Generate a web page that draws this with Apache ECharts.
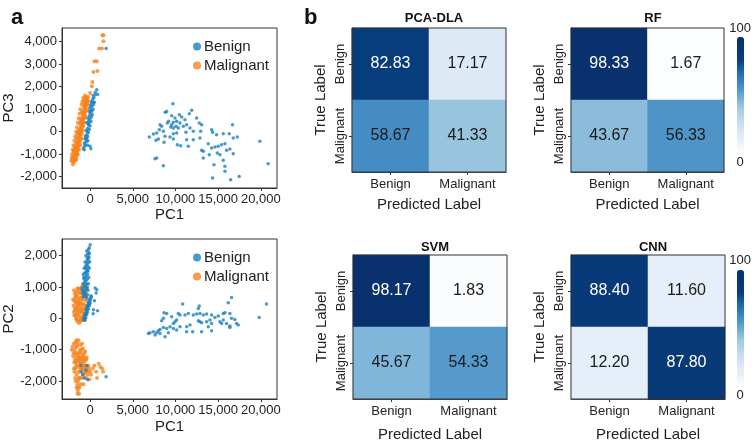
<!DOCTYPE html>
<html>
<head>
<meta charset="utf-8">
<script src="https://cdn.jsdelivr.net/npm/echarts@6/dist/echarts.min.js"></script>
<style>
  html, body { margin: 0; padding: 0; background: #fff; }
  #main { width: 755px; height: 448px; }
</style>
</head>
<body>
<div id="main"></div>
<script>
// ---- data ----
// panel a, top: PC1 vs PC3
var pc13Benign = [
  [9700,1240],[8800,860],[8970,890],[11900,950],[11620,800],[10450,755],[9560,710],[9945,607],[10730,651],
  [12480,607],[11115,533],[9200,459],[9050,385],[9750,414],[10140,459],[9560,311],[8190,311],[8385,237],
  [10530,385],[10060,237],[10335,163],[10920,237],[11310,311],[12790,385],[13065,311],[11700,163],[12090,15],
  [11230,-30],[10140,-59],[9750,-89],[8110,89],[8580,15],[7800,-59],[7410,-104],[6940,-237],[8775,-207],
  [9360,-237],[9750,-326],[12870,-281],[12950,15],[14240,89],[14350,-30],[14820,-133],[15600,-89],[16300,-89],
  [16690,311],[16770,-281],[17240,-237],[7720,-385],[7995,-326],[8660,-474],[10220,-577],[10610,-622],
  [11310,-355],[12090,-355],[11500,-651],[13065,-829],[13260,-873],[13840,-533],[14240,-725],[14625,-681],
  [15010,-651],[15400,-577],[15800,-533],[15990,-829],[16380,-770],[14900,-948],[15210,-1022],[16770,-977],
  [13960,-1022],[13260,-1170],[7800,-1170],[7600,-1200],[8580,-1510],[14510,-1465],[15600,-1273],
  [15800,-1540],[15800,-1762],[16460,-2130],[14350,-2060],[17470,-1985],[19890,-429],[20860,-1420],
  [9750,163],[9440,207],
  [1870,3685],[780,1860],[880,1650],[585,1640],[450,1500],[300,1300],[400,1200],[200,1100],[350,1000],
  [100,950],[195,900],[0,800],[250,750],[-100,700],[150,650],[-50,550],[-200,450],[100,450],[-150,350],
  [-195,310],[0,250],[-300,150],[-100,100],[-350,0],[-200,-50],[-450,-150],[-300,-200],[-390,-280],
  [-500,-350],[-450,-450],[-585,-577],[-650,-650],[-700,-500],[80,-755],[-250,-400],[-550,-200],
  [300,1450],[500,1300],[-400,400],[-50,1050],[150,1250],[-800,-750],[0,-650],
  [-100,900],[350,1600],[600,1750],[-250,600],[-450,50],[-600,-300],[50,1150],[200,1350],[-300,-600],[-700,-800]
];
var pc13Malignant = [
  [-2020,-1460],[-1950,-1150],[-1900,-1050],[-1850,-1180],[-1800,-950],[-1780,-1100],[-1750,-850],
  [-1720,-1000],[-1700,-750],[-1680,-900],[-1650,-1050],[-1620,-650],[-1600,-800],[-1580,-950],
  [-1550,-550],[-1530,-700],[-1500,-850],[-1480,-450],[-1460,-600],[-1440,-750],[-1420,-350],[-1400,-500],
  [-1380,-650],[-1350,-250],[-1330,-400],[-1300,-550],[-1280,-150],[-1250,-300],[-1230,-450],[-1200,-50],
  [-1180,-200],[-1150,50],[-1130,-100],[-1100,150],[-1080,0],[-1050,250],[-1030,100],[-1000,350],
  [-980,200],[-950,450],[-930,300],[-900,550],[-880,400],[-850,650],[-830,500],[-800,750],[-780,600],
  [-750,850],[-720,700],[-700,950],[-680,800],[-650,1050],[-620,900],[-600,1150],[-570,1000],[-550,1250],
  [-520,1100],[-500,1350],[-470,1200],[-450,1450],[-400,1300],[-350,1500],[-300,1400],[-250,1550],
  [-1900,-1250],[-1700,-1150],[-1550,-1000],[-1850,-800],[-1650,-500],[-1450,-250],[-1250,0],
  [-1050,400],[-850,800],[-1750,-1250],[-1600,-1100],
  [-1950,-900],[-1800,-700],[-1650,-300],[-1500,-100],[-1350,100],[-1200,350],[-1050,600],[-900,850],
  [-750,1100],[-600,1350],[-1100,-350],[-950,-100],[-800,250],[-650,600],[-500,900],[-350,1200],
  [-2200,-1300],[-2100,-1000],[-2050,-800],[-1950,-600],[-1850,-400],[-1750,-200],[-1650,0],[-1550,200],
  [-1450,400],[-1350,600],[-1250,800],[-1150,1000],[-1000,1200],[-900,1350],[-800,1500],[-700,1400],
  [-600,1600],[-2100,-1250],[-1900,-850],[-1400,-50],[-1150,500],[-950,900],[-750,1250],[-550,1500],
  [-2150,-1150],[-1950,-1350],[-1800,-1300],[-1600,-1250],[-1450,-1000],[-1300,-800],[-1150,-600],
  [-1000,-300],[-850,50],[-700,400],[-550,700],[-400,1000],[-300,1200],[-200,1350],
  [0,1720],[200,2010],[270,2200],[390,2650],[860,2690],[500,3120],[780,3120],[1050,3685],[1370,3685],
  [1560,4010],[1440,4280],[1560,4280]
];
// panel a, bottom: PC1 vs PC2
var pc12Benign = [
  [10842,457],[12792,393],[12675,318],[16575,669],[16185,499],[20670,457],[19812,31],[8658,180],[8970,159],
  [9555,53],[8580,0],[8385,-75],[10335,159],[10530,106],[11115,106],[11505,159],[12090,106],[12480,138],
  [12870,159],[13260,106],[13650,138],[14235,106],[14625,31],[15015,74],[15600,159],[15795,180],[16380,159],
  [16575,0],[16965,-32],[17160,-160],[17355,-213],[15210,-107],[15405,-160],[15600,-54],[15990,-160],
  [16380,-245],[12870,-107],[13065,-139],[12675,-75],[13650,-107],[14040,-54],[14235,-160],[13845,-266],
  [11700,-213],[11310,-266],[12012,-426],[10530,-266],[10140,-373],[9750,-319],[9360,-266],[8970,-319],
  [8580,-288],[8190,-351],[7995,-394],[7410,-426],[7020,-458],[6825,-479],[7605,-532],[7800,-458],
  [8190,-479],[8775,-585],[9165,-458],[9750,-160],[9945,-107],[10140,-54],[11310,-426],[13065,-426],
  [14235,-394],[16380,-288],
  [0,2350],[-100,2250],[-200,2200],[-150,2100],[-300,2050],[-250,1950],[-350,1900],[-200,1850],[-400,1800],
  [-300,1750],[-450,1700],[-250,1650],[-500,1600],[-350,1550],[-400,1500],[-550,1450],[-300,1400],
  [-450,1350],[-600,1300],[-350,1250],[-500,1200],[-650,1150],[-400,1100],[-550,1050],[-700,1000],
  [-450,950],[-600,900],[-750,850],[-500,800],[-650,750],[-800,700],[-550,1650],[-150,1950],[-250,1500],
  [-700,1250],[-350,1000],
  [-850,1100],[-900,900],[-800,1400],[-700,1600],[-600,1800],[-500,2000],[-400,2150],[-100,2050],
  [-50,1800],[-100,1600],[-150,1300],[-200,1100],[-250,900],[-300,750],[-400,650],[-550,700],[-650,1450],
  [-750,1300],[-850,800],[-950,950],
  [-780,-40],[-700,50],[-650,0],[-600,150],[-550,100],[-500,250],[-450,180],[-400,350],[-350,280],
  [-300,430],[-250,380],[-200,500],[-150,450],[-100,580],[-50,520],[0,650],[50,600],[100,720],[150,680],
  [-600,-60],[-500,20],[-400,120],[-300,200],[-200,300],[-100,400],[0,480],[585,967],[780,915],[700,808],
  [860,245],[390,277],[500,560],[350,150],
  [-1100,-1500],[-900,-1800],[-700,-1900],[-500,-1650],[-300,-1950],[1870,-1860],[-1000,-1700],[-400,-1500]
];
var pc12Malignant = [
  [-1900,900],[-1800,800],[-1750,650],[-1700,500],[-1650,350],[-1600,200],[-1550,50],[-1500,700],
  [-1450,550],[-1400,400],[-1350,250],[-1300,100],[-1250,-50],[-1200,800],[-1150,650],[-1100,500],
  [-1050,350],[-1000,200],[-950,50],[-900,900],[-850,750],[-800,600],[-750,450],[-700,300],[-650,150],
  [-600,1000],[-550,850],[-500,700],[-450,550],[-400,400],[-350,950],[-1800,300],[-1650,0],[-1500,400],
  [-1350,600],[-1200,300],[-1050,800],[-900,450],[-750,1050],[-1850,100],[-1400,950],[-1100,0],[-600,350],
  [-1700,700],[-1550,850],[-1250,450],[-1000,650],[-800,150],[-1450,150],[-1150,950],
  [-2000,600],[-1950,400],[-1900,200],[-1750,100],[-1600,-50],[-1450,-100],[-1300,-150],[-1150,-100],
  [-1000,-50],[-850,0],[-700,-50],[-1850,550],[-1650,750],[-1500,950],[-1300,850],[-1000,1000],[-850,1050],
  [-1600,500],[-1300,500],[-950,600],[-1750,250],[-1450,300],[-1150,200],[-900,250],[-700,700],
  [-2150,-1000],[-2000,-1200],[-1900,-800],[-1850,-1400],[-1800,-1000],[-1750,-1600],[-1700,-750],
  [-1650,-1200],[-1600,-1800],[-1550,-900],[-1500,-1400],[-1450,-1100],[-1400,-2000],[-1350,-700],
  [-1300,-1500],[-1250,-1250],[-1200,-1700],[-1150,-850],[-1100,-1400],[-1050,-1100],[-1000,-1900],
  [-950,-1300],[-900,-1600],[-850,-950],[-800,-1800],[-750,-1200],[-700,-1500],[-650,-1750],[-600,-1050],
  [-550,-1350],[-500,-1900],[-450,-1600],[-400,-1250],[-300,-1800],[-200,-1500],[-100,-1950],[0,-1700],
  [100,-1800],[300,-1600],[500,-1500],[700,-1700],[1000,-1450],[1200,-1550],[1400,-1600],[1520,-1700],
  [800,-1900],[-1600,-2200],[-1450,-2300],[-1500,-2100],[-1300,-2400],[-1700,-1400],[-1900,-1600],
  [-1800,-1300],[-1400,-1700],[-1100,-2100],[-1000,-1000],[-1200,-1000],[-1650,-900],[-1350,-1900],
  [-800,-2100],[-1750,-1100],[-1550,-1550],[-1300,-1100],[-1150,-1250],[-950,-1500],[-700,-1300],
  [-2050,-900],[-1950,-1100],[-1850,-1700],[-1750,-1900],[-1650,-1500],[-1550,-1300],[-1450,-800],
  [-1350,-1300],[-1250,-1900],[-1150,-1600],[-1050,-1300],[-950,-800],[-850,-1200],[-750,-1600],
  [-650,-1100],[-550,-1700],[-450,-1300],[-350,-1550],[-250,-1700],[-150,-1600],[-1600,-700],
  [-1400,-1200],[-1200,-1400],[-1000,-1600],[-800,-1400],[-600,-1500],[-1700,-2000],[-1500,-2400],
  [-1400,-2200],[-1250,-2200]
];
var pc1Ticks = [0, 5000, 10000, 15000, 20000];
var pc3Ticks = [-2000, -1000, 0, 1000, 2000, 3000, 4000];
var pc2Ticks = [-2000, -1000, 0, 1000, 2000];

// panel b: confusion matrices (rows = true label, cols = predicted)
var classes = ['Benign', 'Malignant'];
var pcaDla = [[82.83, 17.17], [58.67, 41.33]];
var rf = [[98.33, 1.67], [43.67, 56.33]];
var svm = [[98.17, 1.83], [45.67, 54.33]];
var cnn = [[88.40, 11.60], [12.20, 87.80]];
var blues = ['#ffffff','#e9f1fa','#d8e7f5','#bed8ec','#a0c8e0','#68a8d3','#3f88c0','#1f6aab','#083f80','#083876','#08306b'];

var FONT = 'Liberation Sans';
var BLUE = '#1a80bf', ORANGE = '#f5841f';
var fmt = function (v) { return v.toLocaleString('en-US'); };

var myChart = echarts.init(document.getElementById('main'));

function scatterX(gi, gap) {
  return {
    type: 'value', gridIndex: gi, min: -3300, max: 21900,
    name: 'PC1', nameLocation: 'middle', nameGap: gap,
    nameTextStyle: { fontSize: 15, color: '#222' },
    axisLine: { show: true, onZero: false, lineStyle: { color: '#333' } },
    axisTick: { show: true, length: 3, customValues: pc1Ticks, lineStyle: { color: '#333' } },
    axisLabel: { customValues: pc1Ticks, fontSize: 13, color: '#222', margin: 5, formatter: fmt },
    splitLine: { show: false }
  };
}
function scatterY(gi, name, min, max, ticks) {
  return {
    type: 'value', gridIndex: gi, min: min, max: max,
    name: name, nameLocation: 'middle', nameGap: 39,
    nameTextStyle: { fontSize: 15, color: '#222' },
    axisLine: { show: true, onZero: false, lineStyle: { color: '#333' } },
    axisTick: { show: true, length: 3, customValues: ticks, lineStyle: { color: '#333' } },
    axisLabel: { customValues: ticks, fontSize: 13, color: '#222', margin: 5, formatter: fmt },
    splitLine: { show: false }
  };
}
function heatX(gi, gap) {
  return {
    type: 'category', gridIndex: gi, data: classes,
    name: 'Predicted Label', nameLocation: 'middle', nameGap: gap,
    nameTextStyle: { fontSize: 15, color: '#222' },
    axisLine: { show: true, lineStyle: { color: '#333' } },
    axisTick: { show: true, alignWithLabel: true, length: 3, lineStyle: { color: '#333' } },
    axisLabel: { fontSize: 13, color: '#222', margin: 6, interval: 0 },
    splitArea: { show: false }, splitLine: { show: false }
  };
}
function heatY(gi) {
  return {
    type: 'category', gridIndex: gi, data: classes, inverse: true,
    name: 'True Label', nameLocation: 'middle', nameGap: 24,
    nameTextStyle: { fontSize: 15, color: '#222' },
    axisLine: { show: true, lineStyle: { color: '#333' } },
    axisTick: { show: true, alignWithLabel: true, length: 3, lineStyle: { color: '#333' } },
    axisLabel: { fontSize: 13, color: '#222', rotate: 90, margin: 5, interval: 0,
      align: 'center', verticalAlign: 'bottom' },
    splitArea: { show: false }, splitLine: { show: false }
  };
}
function heatData(m) {
  var out = [];
  for (var r = 0; r < m.length; r++) {
    for (var c = 0; c < m[r].length; c++) {
      var v = m[r][c];
      out.push({ value: [c, r, v], label: { color: v > 70 ? '#ffffff' : '#1a1a1a' } });
    }
  }
  return out;
}
function heatSeries(gi, m) {
  return {
    type: 'heatmap', xAxisIndex: gi, yAxisIndex: gi, data: heatData(m),
    label: { show: true, fontSize: 16, formatter: function (p) { return p.value[2].toFixed(2); } },
    emphasis: { disabled: true }
  };
}
function box(l, t, w, h) {
  return { left: l, top: t, width: w, height: h, show: true, z: 10,
    borderColor: '#333', borderWidth: 1, backgroundColor: 'transparent' };
}
// colour bar drawn without its own end texts; the "100" / "0" labels are separate titles
function colorBar(series, top) {
  return {
    type: 'continuous', seriesIndex: series, dimension: 2, min: 0, max: 100,
    left: 737, top: top, itemWidth: 7, itemHeight: 117, text: null, showLabel: false,
    calculable: false, hoverLink: false, padding: 0,
    inRange: { color: blues }
  };
}
var titleStyle = { fontSize: 13, fontWeight: 'bold', color: '#111' };
var barText = { fontSize: 13, fontWeight: 'normal', color: '#222' };

myChart.setOption({
  animation: false,
  textStyle: { fontFamily: FONT },
  title: [
    { text: 'a', left: 6, top: 2, textStyle: { fontSize: 22, fontWeight: 'bold', color: '#111' } },
    { text: 'b', left: 299, top: 2, textStyle: { fontSize: 22, fontWeight: 'bold', color: '#111' } },
    { text: 'PCA-DLA', left: 429, top: 7, textAlign: 'center', textStyle: titleStyle },
    { text: 'RF', left: 648, top: 7, textAlign: 'center', textStyle: titleStyle },
    { text: 'SVM', left: 430, top: 236, textAlign: 'center', textStyle: titleStyle },
    { text: 'CNN', left: 648, top: 236, textAlign: 'center', textStyle: titleStyle },
    { text: '100', right: 4, top: 22, padding: 0, textStyle: barText },
    { text: '0', left: 740, top: 156, textAlign: 'center', padding: 0, textStyle: barText },
    { text: '100', right: 4, top: 254, padding: 0, textStyle: barText },
    { text: '0', left: 740, top: 389, textAlign: 'center', padding: 0, textStyle: barText }
  ],
  legend: [
    { data: ['Benign', 'Malignant'], left: 188, top: 34, orient: 'vertical', itemGap: 4,
      icon: 'circle', itemWidth: 8, itemHeight: 8,
      textStyle: { fontSize: 15, color: '#222', padding: [0, 0, 0, -2] } },
    { data: ['Benign', 'Malignant'], left: 188, top: 245, orient: 'vertical', itemGap: 4,
      icon: 'circle', itemWidth: 8, itemHeight: 8,
      textStyle: { fontSize: 15, color: '#222', padding: [0, 0, 0, -2] } }
  ],
  grid: [
    box(62, 28, 215, 160),
    box(62, 239, 215, 160),
    box(352, 28, 154, 144),
    box(571, 28, 153, 144),
    box(353, 255, 154, 144),
    box(571, 255, 154, 144)
  ],
  xAxis: [scatterX(0, 19), scatterX(1, 20), heatX(2, 25), heatX(3, 25), heatX(4, 28), heatX(5, 28)],
  yAxis: [
    scatterY(0, 'PC3', -2500, 4600, pc3Ticks),
    scatterY(1, 'PC2', -2570, 2530, pc2Ticks),
    heatY(2), heatY(3), heatY(4), heatY(5)
  ],
  visualMap: [colorBar([4, 5], 37), colorBar([6, 7], 270)],
  series: [
    { name: 'Malignant', type: 'scatter', xAxisIndex: 0, yAxisIndex: 0, data: pc13Malignant,
      symbolSize: 4, itemStyle: { color: ORANGE } },
    { name: 'Benign', type: 'scatter', xAxisIndex: 0, yAxisIndex: 0, data: pc13Benign,
      symbolSize: 3.5, itemStyle: { color: BLUE } },
    { name: 'Malignant', type: 'scatter', xAxisIndex: 1, yAxisIndex: 1, data: pc12Malignant,
      symbolSize: 4, itemStyle: { color: ORANGE } },
    { name: 'Benign', type: 'scatter', xAxisIndex: 1, yAxisIndex: 1, data: pc12Benign,
      symbolSize: 3.5, itemStyle: { color: BLUE } },
    heatSeries(2, pcaDla),
    heatSeries(3, rf),
    heatSeries(4, svm),
    heatSeries(5, cnn)
  ]
});
</script>
</body>
</html>
